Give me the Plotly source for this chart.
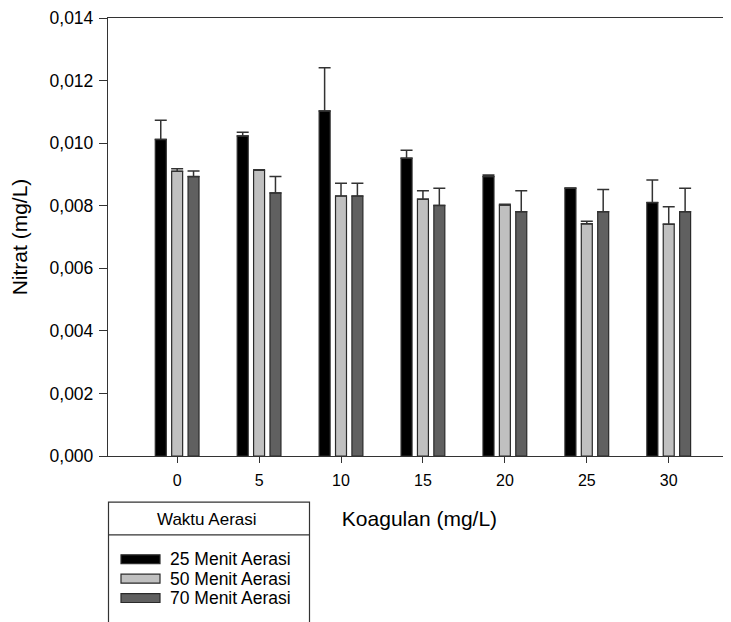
import plotly.graph_objects as go

# ---------------- data ----------------
koagulan = [0, 5, 10, 15, 20, 25, 30]
series_names = ["25 Menit Aerasi", "50 Menit Aerasi", "70 Menit Aerasi"]

nitrat_25 = [0.01012, 0.01023, 0.01103, 0.00952, 0.00893, 0.00856, 0.00810]
err_25    = [0.00061, 0.00012, 0.00138, 0.00025, 0.00005, 0.00001, 0.00072]

nitrat_50 = [0.00910, 0.00913, 0.00831, 0.00821, 0.00802, 0.00742, 0.00741]
err_50    = [0.00008, 0.00002, 0.00041, 0.00027, 0.00003, 0.00008, 0.00056]

nitrat_70 = [0.00893, 0.00841, 0.00831, 0.00801, 0.00781, 0.00781, 0.00781]
err_70    = [0.00018, 0.00052, 0.00041, 0.00055, 0.00067, 0.00071, 0.00075]

y_ticks = [0, 0.002, 0.004, 0.006, 0.008, 0.010, 0.012, 0.014]
colors = ["#000000", "#c0c0c0", "#606060"]

FONT = "Arial, Liberation Sans, sans-serif"

# ---------------- figure ----------------
fig = go.Figure()
for name, vals, errs, col in zip(series_names,
                                 [nitrat_25, nitrat_50, nitrat_70],
                                 [err_25, err_50, err_70], colors):
    fig.add_trace(go.Bar(
        x=koagulan, y=vals, name=name,
        marker=dict(color=col, line=dict(color="#2a2a2a", width=1.2)),
        error_y=dict(type="data", array=errs, arrayminus=[0] * len(errs),
                     symmetric=False, color="#333333", thickness=1.5, width=6),
        showlegend=False,
    ))

# page body has an 8px margin; plot area wanted at screen 108..731 x 15..456
OFF = 8
PL, PR, PT, PB = 108, 731, 15, 456
W, H = 731 - OFF, 622 - OFF
L, T = PL - OFF, PT - OFF
R = (W + OFF) - PR
B = (H + OFF) - PB
pw, ph = PR - PL, PB - PT

def px_x(p):
    return (p - PL) / pw

def px_y(p):
    return (PB - p) / ph

fig.update_layout(
    width=W, height=H,
    margin=dict(l=L, r=R, t=T, b=B, pad=0),
    paper_bgcolor="white", plot_bgcolor="white",
    barmode="group", bargap=0.4, bargroupgap=0.33,
    separators=",.",
    font=dict(family=FONT, color="#000000", size=16),
)

fig.update_xaxes(
    range=[-4.22, 33.8],
    tickvals=koagulan, ticktext=[str(k) for k in koagulan],
    ticks="outside", ticklen=6, tickwidth=1.2, tickcolor="#333333",
    ticklabelstandoff=4,
    showline=True, linecolor="#333333", linewidth=1.3, mirror=True,
    showgrid=False, zeroline=False,
    tickfont=dict(size=16, family=FONT),
    title=dict(text="Koagulan (mg/L)", font=dict(size=21, family=FONT), standoff=22),
)
fig.update_yaxes(
    range=[0, 0.014],
    tickvals=y_ticks, tickformat=".3f",
    ticks="outside", ticklen=8, tickwidth=1.2, tickcolor="#333333",
    ticklabelstandoff=2, ticklabeloverflow="allow",
    showline=True, linecolor="#333333", linewidth=1.3, mirror=False,
    showgrid=False, zeroline=False,
    tickfont=dict(size=17.5, family=FONT),
    title=dict(text="Nitrat (mg/L)", font=dict(size=21, family=FONT), standoff=16),
)

# ---------------- legend box (drawn) ----------------
shapes = []
box_l, box_r, box_t, sep_y, box_b = 108.5, 309.5, 502.5, 535.5, 640
shapes.append(dict(type="rect", xref="paper", yref="paper",
                   x0=px_x(box_l), x1=px_x(box_r), y0=px_y(box_t), y1=px_y(box_b),
                   line=dict(color="#333333", width=1.2), fillcolor="rgba(0,0,0,0)"))
shapes.append(dict(type="line", xref="paper", yref="paper",
                   x0=px_x(box_l), x1=px_x(box_r), y0=px_y(sep_y), y1=px_y(sep_y),
                   line=dict(color="#333333", width=1.2)))

annotations = [dict(text="Waktu Aerasi", xref="paper", yref="paper",
                    x=px_x(207), y=px_y(520), xanchor="center", yanchor="middle",
                    showarrow=False, font=dict(size=17, family=FONT, color="#000000"))]

row_y = [560, 579.5, 599]
for name, col, ry in zip(series_names, colors, row_y):
    shapes.append(dict(type="rect", xref="paper", yref="paper",
                       x0=px_x(121), x1=px_x(160), y0=px_y(ry - 4.5), y1=px_y(ry + 4.5),
                       fillcolor=col, line=dict(color="#2a2a2a", width=1.2)))
    annotations.append(dict(text=name, xref="paper", yref="paper",
                            x=px_x(168), y=px_y(ry), xanchor="left", yanchor="middle",
                            showarrow=False,
                            font=dict(size=17.5, family=FONT, color="#000000")))

fig.update_layout(shapes=shapes, annotations=annotations)

fig.write_html("out.html")
